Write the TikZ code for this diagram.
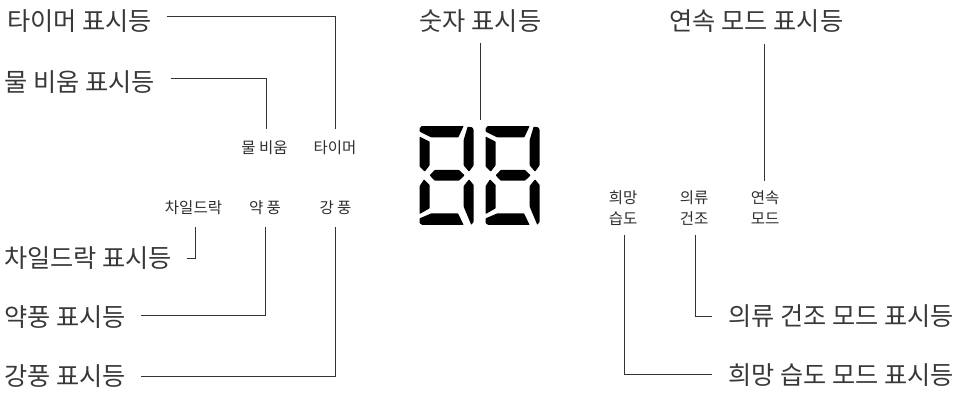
\documentclass[tikz,border=0pt]{standalone}
\usepackage{fontspec}
\setmainfont{Noto Sans CJK KR}
\definecolor{leadgray}{HTML}{333333}
\tikzset{
  biglabel/.style={font=\fontsize{25.2}{30}\selectfont,text=black!78,inner sep=0pt},
  smalllabel/.style={font=\fontsize{15.5}{21}\selectfont,text=black!82,inner sep=0pt,align=center},
  lead/.style={draw=leadgray,line width=.9pt},
  seg/.style={fill=black,draw=none,rounded corners=.6pt}
}
% one display digit, local coordinates are 3x the picture
\newcommand{\lcddigit}[1]{
  \begin{scope}[shift={(#1)},x=.3333pt,y=-.3333pt]
    \fill[seg] (8,0) -- (134,0) -- (118,34) -- (36,34) -- (2,17) -- (2,7) -- cycle;
    \fill[seg] (146,2) -- (160,4) -- (164,12) -- (164,118) -- (150,137) -- (134,118) -- (134,42) -- cycle;
    \fill[seg] (2,32) -- (32,47) -- (32,118) -- (17,137) -- (2,122) -- cycle;
    \fill[seg] (47,132) -- (120,132) -- (137,148) -- (120,164) -- (47,164) -- (32,148) -- cycle;
    \fill[seg] (2,180) -- (15,160) -- (32,177) -- (32,247) -- (2,264) -- cycle;
    \fill[seg] (134,180) -- (150,160) -- (164,177) -- (164,287) -- (157,297) -- (134,242) -- cycle;
    \fill[seg] (2,277) -- (37,262) -- (117,262) -- (134,297) -- (10,297) -- (2,292) -- cycle;
  \end{scope}
}
\begin{document}
\begin{tikzpicture}[x=1pt,y=-1pt]
	\useasboundingbox (0,0) rectangle (965,393);

	\node[biglabel,anchor=west] (timerLabel) at (7,21) {타이머 표시등};
	\node[biglabel,anchor=west] (waterLabel) at (4.5,82) {물 비움 표시등};
	\node[biglabel,anchor=west] (lockLabel) at (4,258) {차일드락 표시등};
	\node[biglabel,anchor=west] (weakLabel) at (4,317) {약풍 표시등};
	\node[biglabel,anchor=west] (strongLabel) at (4,376) {강풍 표시등};
	\node[biglabel] (digitLabel) at (480.5,21) {숫자 표시등};
	\node[biglabel] (contLabel) at (756.5,21) {연속 모드 표시등};
	\node[biglabel,anchor=east] (dryLabel) at (954,316) {의류 건조 모드 표시등};
	\node[biglabel,anchor=east] (humLabel) at (954,375) {희망 습도 모드 표시등};

	\node[smalllabel] (water) at (264.5,148) {물 비움};
	\node[smalllabel] (timer) at (335,148) {타이머};
	\node[smalllabel] (lock) at (193.5,208) {차일드락};
	\node[smalllabel] (weak) at (265,208) {약 풍};
	\node[smalllabel] (strong) at (335.5,208) {강 풍};
	\node[smalllabel] (hum) at (623,208) {희망\\습도};
	\node[smalllabel] (dry) at (694,208) {의류\\건조};
	\node[smalllabel] (cont) at (765,208) {연속\\모드};

	\lcddigit{419,126}
	\lcddigit{485,126}
	\coordinate (digits) at (480,120);

	\coordinate (timerStart) at (167,16.5);
	\coordinate (waterStart) at (171,78.5);
	\coordinate (lockStart) at (187,258.5);
	\coordinate (weakStart) at (141,315);
	\coordinate (strongStart) at (141,376.5);
	\coordinate (contStart) at (764.5,44);
	\coordinate (dryEnd) at (712,316);
	\coordinate (humEnd) at (712,374.5);

	\draw[lead] (timerStart) -| ([xshift=.5pt,yshift=12pt]timer.north);
	\draw[lead] (waterStart) -| ([xshift=1.5pt,yshift=12pt]water.north);
	\draw[lead] (lockStart) -| ([xshift=1.5pt,yshift=-12pt]lock.south);
	\draw[lead] (weakStart) -| ([xshift=.5pt,yshift=-12pt]weak.south);
	\draw[lead] (strongStart) -| ([yshift=-12pt]strong.south);
	\draw[lead] ([xshift=-.5pt,yshift=-10pt]digitLabel.south) -- (digits);
	\draw[lead] (contStart) -- ([xshift=-.5pt,yshift=10pt]cont.north);
	\draw[lead] ([xshift=1pt,yshift=-9pt]dry.south) |- (dryEnd);
	\draw[lead] ([xshift=1.5pt,yshift=-9pt]hum.south) |- (humEnd);
\end{tikzpicture}
\end{document}
